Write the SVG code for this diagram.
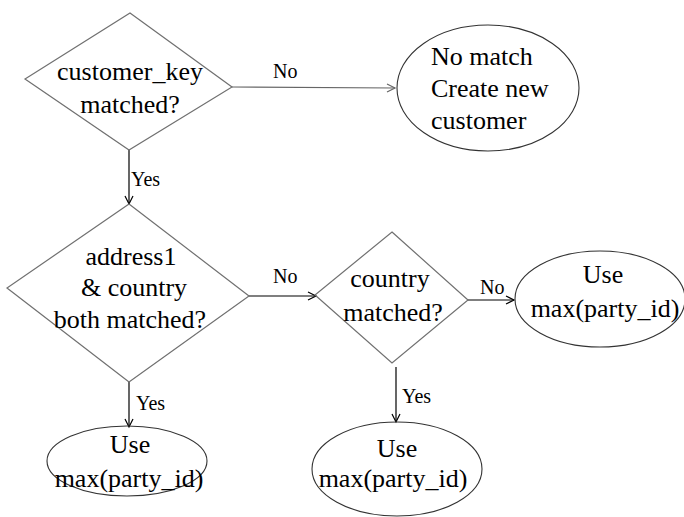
<svg xmlns="http://www.w3.org/2000/svg" width="684" height="517" viewBox="0 0 684 517" font-family="serif">
<rect width="684" height="517" fill="#fff"/>
<g id="connectors" fill="none" stroke="#000" stroke-width="1.2">
<line x1="232" y1="87" x2="395" y2="88" stroke="#666"/>
<path d="M387,84 L395,88 L387,92" stroke="#666"/>
<line x1="129" y1="150" x2="129" y2="204"/>
<path d="M125,196 L129,204 L133,196"/>
<line x1="249" y1="296" x2="316" y2="296"/>
<path d="M308,292 L316,296 L308,300"/>
<line x1="129" y1="382" x2="129" y2="427"/>
<path d="M125,419 L129,427 L133,419"/>
<line x1="468" y1="300" x2="514" y2="300"/>
<path d="M506,296 L514,300 L506,304"/>
<line x1="396" y1="367" x2="396" y2="422"/>
<path d="M392,414 L396,422 L400,414"/>
</g>
<g id="edge-labels">
<text font-family="Times New Roman, serif" font-size="20" x="273" y="78">No</text>
<text font-family="Times New Roman, serif" font-size="20" x="131" y="186">Yes</text>
<text font-family="Times New Roman, serif" font-size="20" x="273" y="283">No</text>
<text font-family="Times New Roman, serif" font-size="20" x="136" y="410">Yes</text>
<text font-family="Times New Roman, serif" font-size="20" x="480" y="294">No</text>
<text font-family="Times New Roman, serif" font-size="20" x="402" y="403">Yes</text>
</g>
<g id="d1">
<polygon points="130,13 232,87 129,150 25,79" fill="none" stroke="#707070" stroke-width="1.2"/>
<text font-family="Times New Roman, serif" font-size="26" text-anchor="middle" x="130" y="80">customer_key</text>
<text font-family="Times New Roman, serif" font-size="26" text-anchor="middle" x="130" y="113">matched?</text>
</g>
<g id="e1">
<ellipse cx="488" cy="88" rx="91" ry="63" fill="none" stroke="#333" stroke-width="1.1"/>
<text font-family="Times New Roman, serif" font-size="26" x="431" y="65">No match</text>
<text font-family="Times New Roman, serif" font-size="26" x="431" y="97">Create new</text>
<text font-family="Times New Roman, serif" font-size="26" x="431" y="129">customer</text>
</g>
<g id="d2">
<polygon points="129,204 249,296 129,382 7,288" fill="none" stroke="#707070" stroke-width="1.2"/>
<text font-family="Times New Roman, serif" font-size="26" text-anchor="middle" x="131" y="265">address1</text>
<text font-family="Times New Roman, serif" font-size="26" text-anchor="middle" x="134" y="296">&amp; country</text>
<text font-family="Times New Roman, serif" font-size="26" text-anchor="middle" x="130" y="328">both matched?</text>
</g>
<g id="d3">
<polygon points="392,232 468,300 392,363 315,295" fill="none" stroke="#707070" stroke-width="1.2"/>
<text font-family="Times New Roman, serif" font-size="26" text-anchor="middle" x="390" y="287">country</text>
<text font-family="Times New Roman, serif" font-size="26" text-anchor="middle" x="393" y="321">matched?</text>
</g>
<g id="e2">
<ellipse cx="600" cy="299" rx="85" ry="48" fill="none" stroke="#333" stroke-width="1.1"/>
<text font-family="Times New Roman, serif" font-size="26" text-anchor="middle" x="603" y="283">Use</text>
<text font-family="Times New Roman, serif" font-size="26" text-anchor="middle" x="605" y="317">max(party_id)</text>
</g>
<g id="e3">
<ellipse cx="127" cy="461" rx="80" ry="35" fill="none" stroke="#333" stroke-width="1.1"/>
<text font-family="Times New Roman, serif" font-size="26" text-anchor="middle" x="130" y="453">Use</text>
<text font-family="Times New Roman, serif" font-size="26" text-anchor="middle" x="129" y="487">max(party_id)</text>
</g>
<g id="e4">
<ellipse cx="397" cy="469" rx="85" ry="47" fill="none" stroke="#333" stroke-width="1.1"/>
<text font-family="Times New Roman, serif" font-size="26" text-anchor="middle" x="397" y="457">Use</text>
<text font-family="Times New Roman, serif" font-size="26" text-anchor="middle" x="393" y="487">max(party_id)</text>
</g>
</svg>
